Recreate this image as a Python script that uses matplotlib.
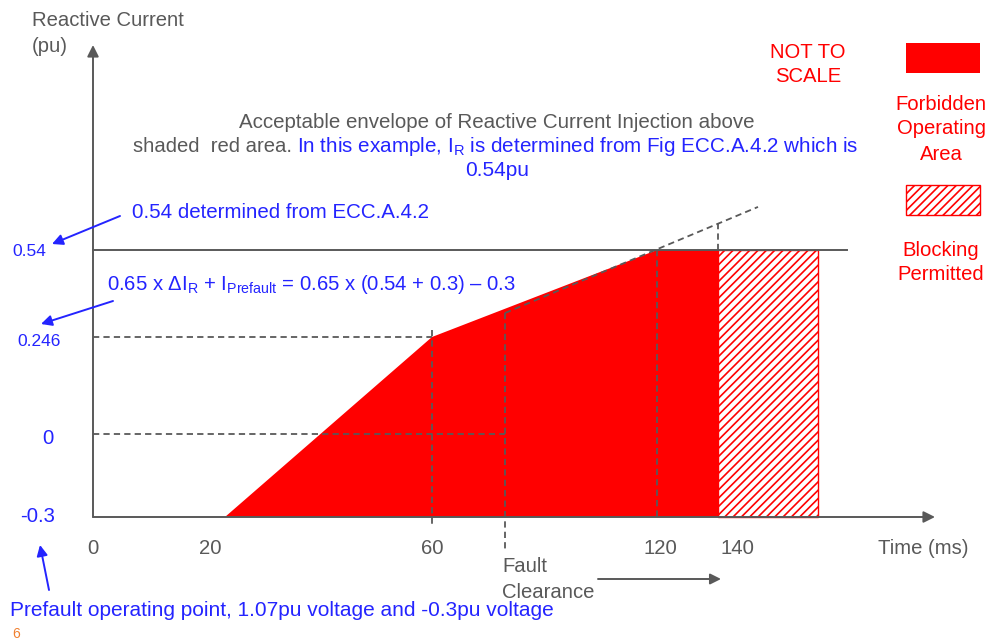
#
# Reactive current injection envelope (not to scale)
#
import numpy as np
import matplotlib
matplotlib.use("Agg")
import matplotlib.pyplot as plt
from matplotlib.patches import Rectangle

plt.rcParams['font.family'] = ['Liberation Sans', 'DejaVu Sans']
plt.rcParams['mathtext.fontset'] = 'custom'
plt.rcParams['mathtext.rm'] = 'Liberation Sans'
plt.rcParams['lines.scale_dashes'] = False
plt.rcParams['hatch.linewidth'] = 1.2

#
# Data
#
i_r = 0.54          # reactive current from Fig ECC.A.4.2
i_prefault = -0.3   # prefault operating point
i_kink = 0.246      # 0.65 x (0.54 + 0.3) - 0.3

forbidden_t = [20, 60, 120, 140, 140]
forbidden_i = [i_prefault, i_kink, i_r, i_r, i_prefault]

blocking_t = [140, 160, 160, 140]
blocking_i = [i_prefault, i_prefault, i_r, i_r]

t_fault = 80
tick_t = [0, 20, 60, 120, 140]
tick_labels = ['0', '20', '60', '120', '140']

#
# Not-to-scale axes: piecewise mapping of values to drawing position
#
W, H = 993, 643
xk_val = [-20, 0, 20, 60, 80, 120, 140, 160, 200, 230]
xk_pos = [0, 93, 225, 432, 505, 657, 718, 818, 935, 993]
yk_val = [-0.76, -0.3, 0, 0.246, 0.54, 1.23, 1.38]
yk_pos = [H - p for p in [643, 517, 434, 337, 250, 45, 0]]

fx = (lambda v: np.interp(v, xk_val, xk_pos), lambda p: np.interp(p, xk_pos, xk_val))
fy = (lambda v: np.interp(v, yk_val, yk_pos), lambda p: np.interp(p, yk_pos, yk_val))

fig = plt.figure(figsize=(W / 100, H / 100), dpi=100)
ax = fig.add_axes([0, 0, 1, 1])
ax.set_xscale('function', functions=fx)
ax.set_yscale('function', functions=fy)
ax.set_xlim(-20, 230)
ax.set_ylim(-0.76, 1.38)
ax.axis('off')

GREY = '#595959'
BLUE = '#2424ff'
RED = '#ff0000'

#
# Areas
#
ax.fill(forbidden_t, forbidden_i, color=RED, lw=0, zorder=1)
ax.fill(blocking_t, blocking_i, facecolor='white', edgecolor=RED,
        hatch='////', lw=1, zorder=1)

#
# Axes with arrows
#
arr = dict(arrowstyle='-|>', mutation_scale=17, lw=1.4, color=GREY,
           shrinkA=0, shrinkB=0)
ax.annotate('', xy=(0, 1.23), xytext=(0, i_prefault), arrowprops=arr)
ax.annotate('', xy=(200, i_prefault), xytext=(0, i_prefault), arrowprops=arr)
ax.plot([0, 170], [i_r, i_r], color=GREY, lw=1.4, zorder=3)

#
# Dashed guide lines
#
dash = dict(color=GREY, lw=1.3, dashes=(4.5, 3), zorder=3)
ax.plot([0, 60], [i_kink, i_kink], **dash)
ax.plot([0, t_fault], [0, 0], **dash)
ax.plot([60, 60], [0.27, -0.33], **dash)
ax.plot([t_fault, t_fault], [0.327, -0.426], **dash)
ax.plot([120, 120], [i_r, i_prefault], **dash)
ax.plot([140, 140], [0.63, i_r], **dash)
ax.plot([t_fault, 148], [0.327, 0.685], **dash)

#
# Text (positions in pixels)
#
def T(x, y, s, color=GREY, size=14.6, ha='left', **kw):
    return fig.text(x / W, 1 - y / H, s, color=color, fontsize=size,
                    ha=ha, va='center', **kw)

T(32, 20, 'Reactive Current')
T(32, 46, '(pu)')

for t, lab, dx in zip(tick_t, tick_labels, [0, -15, 0, 3, 19]):
    T(fx[0](t) + dx, 548, lab, ha='center')
T(878, 549, 'Time (ms)')
T(502, 567, 'Fault')
T(502, 592, 'Clearance')

T(497, 122, 'Acceptable envelope of Reactive Current Injection above',
  ha='center', size=14.8)
T(133, 147, 'shaded  red area.', size=14.6)
T(297, 147, r'In this example, I$_\mathregular{R}$ is determined from Fig ECC.A.4.2 which is',
  color=BLUE, size=14.9)
T(497, 171, '0.54pu', color=BLUE, ha='center', size=15)

T(132, 213, '0.54 determined from ECC.A.4.2', color=BLUE, size=14.8)
T(12, 251, '0.54', color=BLUE, size=12.5)
T(107, 285, r'0.65 x ΔI$_\mathregular{R}$ + I$_\mathregular{Prefault}$ = 0.65 x (0.54 + 0.3) – 0.3',
  color=BLUE)
T(17, 341, '0.246', color=BLUE, size=12.5)
T(48, 439, '0', color=BLUE, ha='center')
T(20, 517, '-0.3', color=BLUE)
T(10, 611, 'Prefault operating point, 1.07pu voltage and -0.3pu voltage',
  color=BLUE, size=15)
T(12, 634, '6', color='#f08030', size=10)

T(808, 52, 'NOT TO', color=RED, ha='center')
T(808, 77, 'SCALE', color=RED, ha='center')
T(941, 104, 'Forbidden', color=RED, ha='center')
T(941, 129, 'Operating', color=RED, ha='center')
T(941, 155, 'Area', color=RED, ha='center')
T(941, 250, 'Blocking', color=RED, ha='center')
T(941, 275, 'Permitted', color=RED, ha='center')

#
# Annotation arrows
#
def A(x0, y0, x1, y1, color):
    fig.add_artist(matplotlib.patches.FancyArrowPatch(
        (x0 / W, 1 - y0 / H), (x1 / W, 1 - y1 / H), transform=fig.transFigure,
        arrowstyle='-|>', mutation_scale=16, lw=1.4, color=color,
        shrinkA=0, shrinkB=0))

A(120, 216, 52, 244, BLUE)
A(113, 301, 41, 324, BLUE)
A(49, 590, 40, 545, BLUE)
A(598, 579, 721, 579, GREY)

#
# Legend boxes
#
fig.add_artist(Rectangle((906 / W, 1 - 73 / H), 74 / W, 30 / H,
                         transform=fig.transFigure, color=RED, lw=0))
fig.add_artist(Rectangle((906 / W, 1 - 215 / H), 74 / W, 30 / H,
                         transform=fig.transFigure, facecolor='white',
                         edgecolor=RED, hatch='////', lw=1))

fig.savefig('out.png', dpi=100)
